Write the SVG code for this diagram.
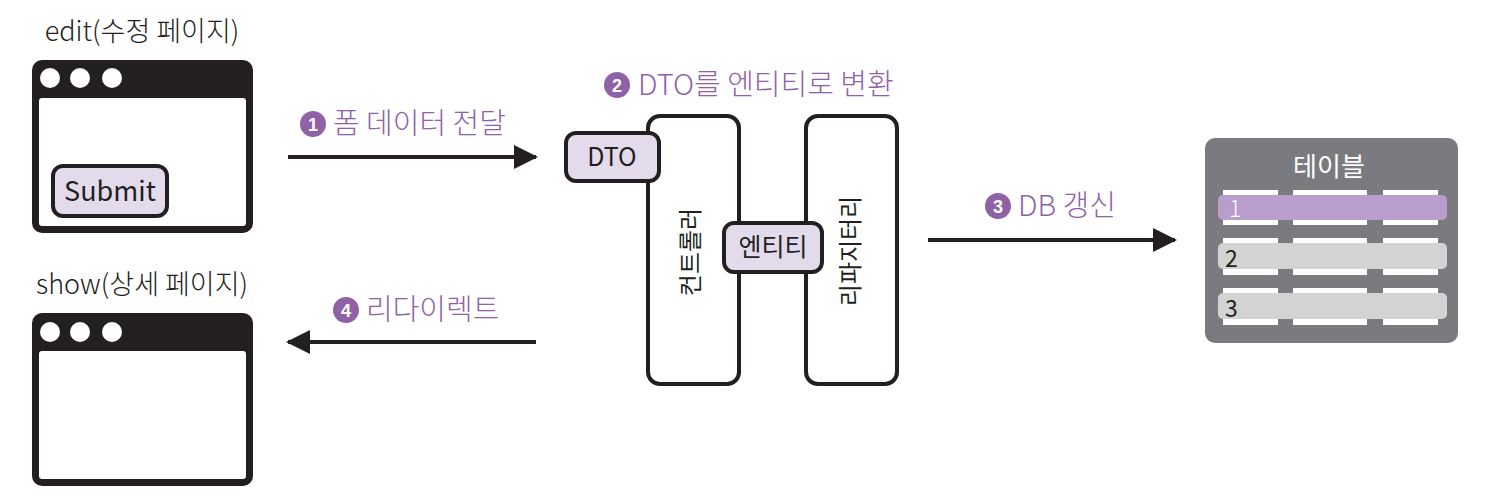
<svg xmlns="http://www.w3.org/2000/svg" width="1488" height="499" viewBox="0 0 1488 499">
<defs>
<style>
.k{font-family:"Noto Sans CJK KR","Noto Sans",sans-serif}
.lbl{font-family:"Noto Sans CJK KR","Noto Sans",sans-serif;font-size:29px;font-weight:300;fill:#8f62a8}
.num{font-family:"Liberation Sans",Arial,sans-serif;font-size:18px;font-weight:bold;fill:#fff;text-anchor:middle}
.ttl{font-family:"Noto Sans CJK KR","Noto Sans",sans-serif;font-size:27px;font-weight:300;fill:#231f20;text-anchor:middle}
.box{fill:#fff;stroke:#231f20;stroke-width:4}
.tag{fill:#e3dbec;stroke:#231f20;stroke-width:4}
.wire{stroke:#231f20;stroke-width:4;fill:none}
.bar{fill:#fff}
</style>
<marker id="ah" markerWidth="6" markerHeight="6" viewBox="0 0 6 6" refX="5.5" refY="3" orient="auto" markerUnits="strokeWidth">
<path d="M0,0 L6,3 L0,6 z" fill="#231f20"/>
</marker>
</defs>
<rect width="1488" height="499" fill="#fff"/>

<g id="edit-page">
<text class="ttl" x="142" y="41">edit(수정 페이지)</text>
<rect x="32" y="60" width="221" height="173" rx="10" fill="#231f20"/>
<rect x="39" y="98" width="207" height="128" rx="3" fill="#fff"/>
<circle cx="50" cy="78" r="10" fill="#fff"/>
<circle cx="80" cy="78" r="10" fill="#fff"/>
<circle cx="112" cy="78" r="10" fill="#fff"/>
<rect class="tag" x="53" y="166" width="114" height="50" rx="10"/>
<text class="k" x="110" y="201" font-size="27" fill="#231f20" text-anchor="middle">Submit</text>
</g>

<g id="show-page">
<text class="ttl" x="142" y="294">show(상세 페이지)</text>
<rect x="32" y="313" width="221" height="173" rx="10" fill="#231f20"/>
<rect x="39" y="351" width="207" height="128" rx="3" fill="#fff"/>
<circle cx="50" cy="332" r="10" fill="#fff"/>
<circle cx="80" cy="332" r="10" fill="#fff"/>
<circle cx="112" cy="332" r="10" fill="#fff"/>
</g>

<g id="controller">
<rect class="box" x="648" y="116" width="91" height="268" rx="12"/>
<text class="k" font-size="24" fill="#231f20" text-anchor="middle" transform="translate(699,252) rotate(-90)">컨트롤러</text>
</g>

<g id="repository">
<rect class="box" x="806" y="116" width="91" height="268" rx="12"/>
<text class="k" font-size="24" fill="#231f20" text-anchor="middle" transform="translate(859,251) rotate(-90)">리파지터리</text>
</g>

<g id="dto">
<rect class="tag" x="566" y="133" width="93" height="48" rx="10"/>
<text class="k" x="612" y="166" font-size="25" fill="#231f20" text-anchor="middle">DTO</text>
</g>

<g id="entity">
<rect class="tag" x="724" y="223" width="98" height="49" rx="10"/>
<text class="k" x="773" y="256" font-size="25" fill="#231f20" text-anchor="middle">엔티티</text>
</g>

<g id="table">
<rect x="1205" y="138" width="253" height="205" rx="10" fill="#7b7b7f"/>
<text class="k" x="1329" y="176" font-size="26" fill="#fff" text-anchor="middle">테이블</text>
<g>
<rect class="bar" x="1223" y="190" width="55" height="35"/>
<rect class="bar" x="1293" y="190" width="74" height="35"/>
<rect class="bar" x="1383" y="190" width="55" height="35"/>
<rect x="1218" y="195" width="229" height="25" rx="5" fill="#b99dcc"/>
<text class="k" x="1229" y="217" font-size="23" font-weight="300" fill="#fff">1</text>
</g>
<g>
<rect class="bar" x="1223" y="238" width="55" height="37"/>
<rect class="bar" x="1293" y="238" width="74" height="37"/>
<rect class="bar" x="1383" y="238" width="55" height="37"/>
<rect x="1218" y="243" width="229" height="26" rx="5" fill="#d3d3d3"/>
<text class="k" x="1225" y="267" font-size="23" fill="#231f20">2</text>
</g>
<g>
<rect class="bar" x="1223" y="288" width="55" height="37"/>
<rect class="bar" x="1293" y="288" width="74" height="37"/>
<rect class="bar" x="1383" y="288" width="55" height="37"/>
<rect x="1218" y="293" width="229" height="26" rx="5" fill="#d3d3d3"/>
<text class="k" x="1225" y="317" font-size="23" fill="#231f20">3</text>
</g>
</g>

<g id="connectors">
<line class="wire" x1="288" y1="157" x2="536" y2="157" marker-end="url(#ah)"/>
<line class="wire" x1="536" y1="342" x2="288" y2="342" marker-end="url(#ah)"/>
<line class="wire" x1="928" y1="240" x2="1175" y2="240" marker-end="url(#ah)"/>
</g>

<g id="labels">
<circle cx="313" cy="124" r="13" fill="#8f62a8"/>
<text class="num" x="313" y="130.5">1</text>
<text class="lbl" x="333" y="134">폼 데이터 전달</text>

<circle cx="617" cy="85" r="13" fill="#8f62a8"/>
<text class="num" x="617" y="91.5">2</text>
<text class="lbl" x="638" y="95" font-size="30">DTO를 엔티티로 변환</text>

<circle cx="998" cy="206" r="13" fill="#8f62a8"/>
<text class="num" x="998" y="212.5">3</text>
<text class="lbl" x="1018" y="216">DB 갱신</text>

<circle cx="346" cy="310" r="13" fill="#8f62a8"/>
<text class="num" x="346" y="316.5">4</text>
<text class="lbl" x="366" y="320">리다이렉트</text>
</g>
</svg>
